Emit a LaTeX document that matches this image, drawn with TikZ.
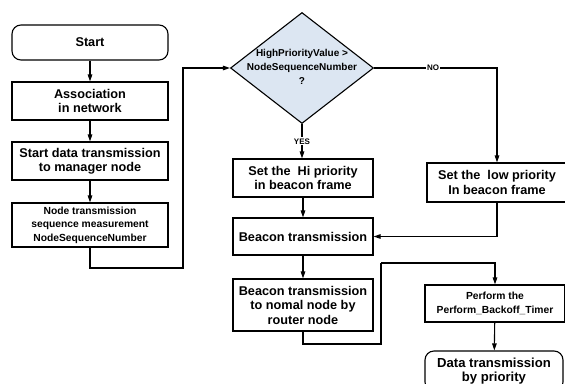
\documentclass[tikz,border=0pt]{standalone}
\usepackage{fontspec}
\setmainfont{Liberation Sans}
\usetikzlibrary{shapes.geometric,arrows.meta}
\definecolor{decfill}{RGB}{220,230,242}
\begin{document}
\begin{tikzpicture}[x=1pt,y=-1pt,
  every node/.style={font=\bfseries},
  bigtxt/.style={font=\bfseries\fontsize{12.7}{14.5}\selectfont},
  smalltxt/.style={font=\bfseries\fontsize{10.3}{13.5}\selectfont},
  box/.style={draw,line width=1.1pt,rectangle,inner sep=0pt,align=center},
  rbox/.style={box,rounded corners=9pt},
  lbl/.style={fill=white,inner sep=1pt,font=\bfseries\fontsize{8}{9}\selectfont},
  arr/.style={line width=1.1pt,-{Triangle[length=7pt,width=4.5pt]}},
  ln/.style={line width=1.1pt}]
\useasboundingbox (0,0) rectangle (565,383);
% left column
\node[rbox,bigtxt,minimum width=156pt,minimum height=35pt] (start) at (90,42.5) {Start};
\node[box,bigtxt,minimum width=156pt,minimum height=38pt] (assoc) at (90,101) {Association\\in network};
\node[box,bigtxt,minimum width=156pt,minimum height=38pt] (sdt) at (90,161) {Start data transmission\\to manager node};
\node[box,smalltxt,minimum width=156pt,minimum height=44pt] (nts) at (90,225) {Node transmission\\sequence measurement\\NodeSequenceNumber};
% decision
\node[diamond,draw,line width=1.1pt,fill=decfill,inner sep=0pt,minimum width=143pt,minimum height=111pt] (dec) at (302,68) {};
\node[align=center,font=\bfseries\fontsize{10}{14}\selectfont] (dectxt) at (302,67) {HighPriorityValue >\\NodeSequenceNumber\\?};
% middle column
\node[box,bigtxt,minimum width=140pt,minimum height=38pt] (hi) at (303,178) {Set the\ \ Hi priority\\in beacon frame};
\node[box,bigtxt,minimum width=140pt,minimum height=37pt] (beacon) at (303,236.5) {Beacon transmission};
\node[box,bigtxt,minimum width=140pt,minimum height=52pt] (btn) at (303,305) {Beacon transmission\\to nomal node by\\router node};
% right column
\node[box,bigtxt,minimum width=140pt,minimum height=39pt] (low) at (497,182.5) {Set the\ \ low priority\\In beacon frame};
\node[box,smalltxt,minimum width=140pt,minimum height=37pt] (perf) at (495,303.5) {Perform the\\Perform\_Backoff\_Timer};
\node[rbox,font=\bfseries\fontsize{13.1}{14.5}\selectfont,minimum width=138pt,minimum height=40pt] (data) at (494,371) {Data transmission\\by priority};
% junctions
\coordinate (j1) at (183,268);
\coordinate (j2) at (381,344);
\coordinate (j3) at (381,263);
% connectors
\draw[arr] (start) -- (assoc);
\draw[arr] (assoc) -- (sdt);
\draw[arr] (sdt) -- (nts);
\draw[arr] (nts.south) |- (j1) |- (dec.west);
\draw[arr] (dec.south) -- node[lbl,pos=0.5] {YES} (dec.south |- hi.north);
\draw[arr] (dec.east) -| node[lbl,pos=0.24] {NO} (low.north);
\draw[arr] (hi) -- (beacon);
\draw[arr] (low.south) |- (beacon.east);
\draw[arr] (beacon) -- (btn);
\draw[ln] (btn.south) |- (j2) -- (j3);
\draw[arr] (j3) -| (perf.north);
\draw[arr] (perf) -- (data);
\end{tikzpicture}
\end{document}
